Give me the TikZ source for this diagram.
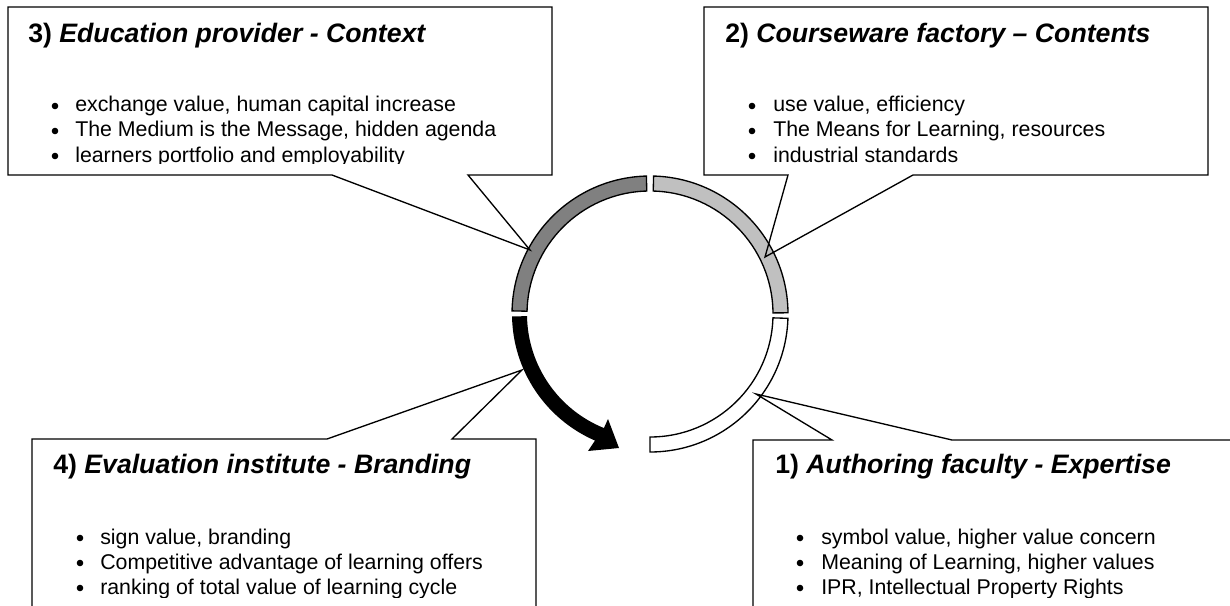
\documentclass[tikz,border=0pt]{standalone}
\usepackage{fontspec}
\setmainfont{Liberation Sans}
\usetikzlibrary{positioning}
\definecolor{contextcolor}{HTML}{808080}
\definecolor{contentcolor}{HTML}{C0C0C0}
\tikzset{
	titlenode/.style={
		anchor=base west,
		inner sep=0pt,
		font=\fontsize{20}{24}\selectfont\bfseries
	},
	itemnode/.style={
		anchor=base west,
		inner sep=0pt,
		font=\fontsize{16}{19}\selectfont
	},
	bulletdot/.style={
		fill=black
	},
	calloutbox/.style={
		draw=black,
		line width=1pt,
		line join=miter
	},
	ringpiece/.style={
		draw=black,
		line width=1pt
	}
}
% ring piece: start angle, end angle, fill
\newcommand{\ringpart}[3]{%
	\filldraw[ringpiece, fill=#3] (#1:138) arc[start angle=#1, end angle=#2, radius=138]
	-- (#2:123) arc[start angle=#2, end angle=#1, radius=123] -- cycle;}

\begin{document}
\begin{tikzpicture}[x=0.75pt, y=0.75pt]
	
	\clip (0,0) rectangle (1230,-606);
	
	% Cycle
	\coordinate (ctr) at (650,-314);
	\begin{scope}[shift={(ctr)}]
		\ringpart{91.5}{178.7}{contextcolor}
		\ringpart{0.5}{88.5}{contentcolor}
		\ringpart{-1.8}{-90}{white}
		% branding arrow
		\fill[black] (181:138) arc[start angle=181, end angle=246.5, radius=138]
		-- (-62,-137) -- (-31,-134) -- (-42,-105)
		-- (248:123) arc[start angle=248, end angle=181, radius=123] -- cycle;
	\end{scope}
	
	% Pointer tips on the ring
	\coordinate (provTip) at (530,-250);
	\coordinate (factTip) at (765,-257);
	\coordinate (instTip) at (522,-370);
	\coordinate (facuTip) at (756,-394);
	
	% Callouts
	\draw[calloutbox] (8,-7) -- (552,-7) -- (552,-175) -- (468,-175)
	-- (provTip) -- (332,-175) -- (8,-175) -- cycle;
	\draw[calloutbox] (704,-7) -- (1208,-7) -- (1208,-175) -- (913,-175)
	-- (factTip) -- (788,-175) -- (704,-175) -- cycle;
	\draw[calloutbox] (32,-650) -- (32,-439) -- (327,-439)
	-- (instTip) -- (452,-439) -- (536,-439) -- (536,-650);
	\draw[calloutbox] (753,-650) -- (753,-440) -- (832,-440)
	-- (facuTip) -- (952,-440) -- (1260,-440);
	
	% 3) top left
	\node[titlenode] (provTitle) at (28,-43) {3) \textit{Education provider - Context}};
	\begin{scope}
		\clip (8,-7) rectangle (552,-163.5);
		\foreach \txt [count=\i] in {{exchange value, human capital increase},
			{The Medium is the Message, hidden agenda},
			{learners portfolio and employability}}
		{
			\node[itemnode] (provItem\i) at (75,-87-25*\i) {\txt};
			\fill[bulletdot] (55,-81-25*\i) circle[radius=3.3];
		}
	\end{scope}
	
	% 2) top right
	\node[titlenode] (factTitle) at (725,-43) {2) \textit{Courseware factory – Contents}};
	\begin{scope}
		\clip (704,-7) rectangle (1208,-164);
		\foreach \txt [count=\i] in {{use value, efficiency},
			{The Means for Learning, resources},
			{industrial standards}}
		{
			\node[itemnode] (factItem\i) at (773,-87-25*\i) {\txt};
			\fill[bulletdot] (752,-81-25*\i) circle[radius=3.3];
		}
	\end{scope}
	
	% 4) bottom left
	\node[titlenode] (instTitle) at (53,-473) {4) \textit{Evaluation institute - Branding}};
	\begin{scope}
		\clip (32,-439) rectangle (536,-597);
		\foreach \txt [count=\i] in {{sign value, branding},
			{Competitive advantage of learning offers},
			{ranking of total value of learning cycle}}
		{
			\node[itemnode] (instItem\i) at (100,-519-25*\i) {\txt};
			\fill[bulletdot] (80,-513-25*\i) circle[radius=3.3];
		}
	\end{scope}
	
	% 1) bottom right
	\node[titlenode] (facuTitle) at (775,-473) {1) \textit{Authoring faculty - Expertise}};
	\begin{scope}
		\clip (753,-440) rectangle (1230,-597);
		\foreach \txt [count=\i] in {{symbol value, higher value concern},
			{Meaning of Learning, higher values},
			{IPR, Intellectual Property Rights}}
		{
			\node[itemnode] (facuItem\i) at (821,-519-25*\i) {\txt};
			\fill[bulletdot] (800,-513-25*\i) circle[radius=3.3];
		}
	\end{scope}
	
\end{tikzpicture}
\end{document}
